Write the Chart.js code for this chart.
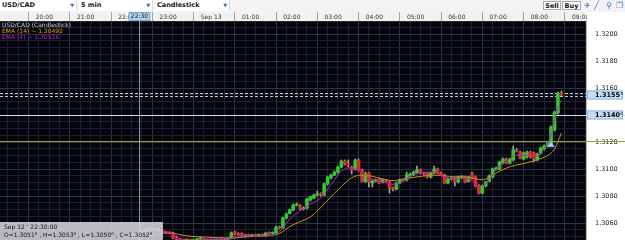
<!DOCTYPE html>
<html>
<head>
<meta charset="utf-8">
<script src="https://cdn.jsdelivr.net/npm/chart.js@4.4.0/dist/chart.umd.min.js"></script>
<style>
  body { margin: 0; background: #fff; }
  #wrap { position: relative; width: 625px; height: 240px; overflow: hidden; font-family: "DejaVu Sans", sans-serif; }
  #chart { position: absolute; left: 0; top: 0; }
  #toolbar { position: absolute; left: 0; top: 0; width: 625px; height: 12px; background: #f3f3f3; }
  .dd { position: absolute; top: 0; height: 11px; background: #fff; font-weight: bold; font-size: 6.5px; line-height: 11px; color: #1a1a1a; padding-left: 2px; box-sizing: border-box; border-right: 1px solid #dedede; }
  .dd .arr { position: absolute; right: 2px; top: 0; color: #2f6fc0; font-size: 5px; }
  .btn { position: absolute; top: 1px; height: 9px; border: 1px solid #a8a8a8; background: #fff; font-weight: bold; font-size: 6.5px; line-height: 8px; text-align: center; box-sizing: border-box; color: #111; }
  .ico { position: absolute; top: 0; font-size: 8px; line-height: 11px; color: #2f78cc; }
  #legend { position: absolute; left: 2px; top: 21.5px; font-size: 6px; line-height: 6px; white-space: nowrap; }
  #ohlc { position: absolute; left: 0; top: 222px; width: 163px; height: 18px; background: rgba(214,217,222,0.86); border-top: 1px solid #b9b9b9; border-right: 1px solid #b9b9b9; box-sizing: border-box; font-size: 6px; color: #111; padding-left: 4px; line-height: 8px; white-space: nowrap; }
  sup { font-size: 4px; vertical-align: 2px; line-height: 0; }
</style>
</head>
<body>
<div id="wrap">
  <canvas id="chart" width="625" height="240"></canvas>
  <div id="toolbar">
    <div class="dd" style="left:0;width:77px">USD/CAD<span class="arr">▼</span></div>
    <div class="dd" style="left:79px;width:74px">5 min<span class="arr">▼</span></div>
    <div class="dd" style="left:155px;width:75px">Candlestick<span class="arr">▼</span></div>
    <div class="btn" style="left:543px;width:18px">Sell</div>
    <div class="btn" style="left:562px;width:19px">Buy</div>
    <span class="ico" style="left:584px">✈</span>
    <span class="ico" style="left:594px">╱</span>
    <span class="ico" style="left:606px">⚲</span>
    <span class="ico" style="left:616px">❐</span>
  </div>
  <div id="legend">
    <div style="color:#c8c8c8">USD/CAD (Candlestick)</div>
    <div style="color:#d49a1a">EMA (14) ~ 1.30492</div>
    <div style="color:#c21cc2">EMA (4) ~ 1.30516</div>
  </div>
  <div id="ohlc">
    <div>Sep 12 ' 22:30:00</div>
    <div>O=1.3051<sup>0</sup> , H=1.3053<sup>0</sup> , L=1.3050<sup>0</sup> , C=1.3052<sup>0</sup></div>
  </div>
</div>
<script>
// 5-minute USD/CAD bars. bar index 0 = 20:00, first bar below is 22:20
const firstBar = 28;

const opens = [
  1.30508, 1.30512, 1.30510, 1.30520, 1.30538, 1.30552, 1.30558, 1.30550, 1.30554, 1.30542,
  1.30534, 1.30528, 1.30526, 1.30489, 1.30480, 1.30468, 1.30464, 1.30470, 1.30466, 1.30476,
  1.30482, 1.30484, 1.30472, 1.30476, 1.30470, 1.30474, 1.30478, 1.30474, 1.30480, 1.30488,
  1.30533, 1.30519, 1.30520, 1.30506, 1.30510, 1.30506, 1.30512, 1.30508, 1.30514, 1.30504,
  1.30526, 1.30522, 1.30526, 1.30570, 1.30563, 1.30637, 1.30670, 1.30696, 1.30733, 1.30726,
  1.30704, 1.30711, 1.30770, 1.30785, 1.30807, 1.30815, 1.30807, 1.30889, 1.30933, 1.30956,
  1.30978, 1.31015, 1.31059, 1.31037, 1.31015, 1.31000, 1.31067, 1.30993, 1.30908, 1.30970,
  1.30896, 1.30911, 1.30926, 1.30904, 1.30914, 1.30904, 1.30859, 1.30852, 1.30896, 1.30919,
  1.30919, 1.30948, 1.30956, 1.30970, 1.30993, 1.30970, 1.30970, 1.30941, 1.30970, 1.31000,
  1.30970, 1.30956, 1.30896, 1.30926, 1.30933, 1.30904, 1.30941, 1.30941, 1.30908, 1.30963,
  1.30941, 1.30874, 1.30822, 1.30874, 1.30911, 1.30941, 1.31000, 1.31000, 1.31044, 1.31074,
  1.31044, 1.31067, 1.31141, 1.31126, 1.31074, 1.31089, 1.31126, 1.31119, 1.31067, 1.31119,
  1.31148, 1.31170, 1.31193, 1.31289, 1.31415, 1.31563
];
const highs = [
  1.30520, 1.30524, 1.30530, 1.30542, 1.30556, 1.30564, 1.30566, 1.30560, 1.30562, 1.30550,
  1.30540, 1.30536, 1.30532, 1.30504, 1.30486, 1.30476, 1.30472, 1.30478, 1.30480, 1.30486,
  1.30498, 1.30488, 1.30480, 1.30484, 1.30478, 1.30482, 1.30486, 1.30484, 1.30488, 1.30534,
  1.30540, 1.30528, 1.30528, 1.30516, 1.30518, 1.30516, 1.30518, 1.30518, 1.30520, 1.30530,
  1.30534, 1.30534, 1.30578, 1.30578, 1.30644, 1.30674, 1.30704, 1.30741, 1.30748, 1.30736,
  1.30720, 1.30785, 1.30798, 1.30815, 1.30837, 1.30824, 1.30896, 1.30948, 1.30963, 1.30985,
  1.31022, 1.31067, 1.31067, 1.31067, 1.31022, 1.31074, 1.31074, 1.31000, 1.30978, 1.30978,
  1.30919, 1.30926, 1.30933, 1.30926, 1.30922, 1.30911, 1.30867, 1.30904, 1.30926, 1.30926,
  1.30978, 1.30970, 1.30985, 1.31022, 1.31000, 1.30978, 1.30978, 1.30978, 1.31022, 1.31007,
  1.30978, 1.30963, 1.30933, 1.30936, 1.30941, 1.30948, 1.30950, 1.30948, 1.30948, 1.30978,
  1.30948, 1.30882, 1.30882, 1.30908, 1.30956, 1.31007, 1.31015, 1.31059, 1.31081, 1.31081,
  1.31081, 1.31170, 1.31150, 1.31133, 1.31126, 1.31133, 1.31133, 1.31126, 1.31119, 1.31163,
  1.31178, 1.31200, 1.31319, 1.31430, 1.31570, 1.31578
];
const lows = [
  1.30502, 1.30506, 1.30500, 1.30516, 1.30532, 1.30544, 1.30546, 1.30540, 1.30538, 1.30528,
  1.30522, 1.30520, 1.30484, 1.30474, 1.30462, 1.30458, 1.30456, 1.30460, 1.30462, 1.30470,
  1.30476, 1.30468, 1.30464, 1.30466, 1.30462, 1.30468, 1.30470, 1.30468, 1.30474, 1.30482,
  1.30512, 1.30504, 1.30500, 1.30498, 1.30502, 1.30498, 1.30504, 1.30500, 1.30504, 1.30500,
  1.30516, 1.30518, 1.30522, 1.30556, 1.30558, 1.30630, 1.30667, 1.30690, 1.30726, 1.30696,
  1.30696, 1.30704, 1.30763, 1.30780, 1.30800, 1.30800, 1.30800, 1.30882, 1.30926, 1.30950,
  1.30970, 1.31008, 1.31030, 1.31015, 1.30963, 1.30993, 1.30985, 1.30904, 1.30900, 1.30867,
  1.30867, 1.30904, 1.30890, 1.30896, 1.30904, 1.30822, 1.30837, 1.30844, 1.30890, 1.30911,
  1.30911, 1.30941, 1.30950, 1.30963, 1.30963, 1.30956, 1.30933, 1.30933, 1.30963, 1.30963,
  1.30950, 1.30890, 1.30890, 1.30919, 1.30874, 1.30896, 1.30933, 1.30896, 1.30904, 1.30926,
  1.30867, 1.30815, 1.30815, 1.30867, 1.30904, 1.30933, 1.30993, 1.30993, 1.31037, 1.31037,
  1.31037, 1.31060, 1.31126, 1.31074, 1.31067, 1.31081, 1.31081, 1.31052, 1.31060, 1.31111,
  1.31141, 1.31163, 1.31185, 1.31281, 1.31407, 1.31541
];
const closes = [
  1.30512, 1.30510, 1.30520, 1.30538, 1.30552, 1.30558, 1.30550, 1.30554, 1.30542, 1.30534,
  1.30528, 1.30526, 1.30489, 1.30480, 1.30468, 1.30464, 1.30470, 1.30466, 1.30476, 1.30482,
  1.30484, 1.30472, 1.30476, 1.30470, 1.30474, 1.30478, 1.30474, 1.30480, 1.30484, 1.30526,
  1.30519, 1.30516, 1.30506, 1.30510, 1.30506, 1.30512, 1.30508, 1.30514, 1.30508, 1.30526,
  1.30522, 1.30530, 1.30570, 1.30563, 1.30637, 1.30667, 1.30696, 1.30733, 1.30736, 1.30704,
  1.30711, 1.30778, 1.30793, 1.30807, 1.30815, 1.30812, 1.30889, 1.30941, 1.30956, 1.30978,
  1.31015, 1.31059, 1.31037, 1.31028, 1.30993, 1.31067, 1.30993, 1.30908, 1.30963, 1.30904,
  1.30911, 1.30916, 1.30896, 1.30919, 1.30911, 1.30859, 1.30852, 1.30896, 1.30919, 1.30916,
  1.30956, 1.30963, 1.30978, 1.30993, 1.30970, 1.30966, 1.30941, 1.30970, 1.31000, 1.30970,
  1.30956, 1.30896, 1.30926, 1.30929, 1.30904, 1.30941, 1.30944, 1.30904, 1.30941, 1.30933,
  1.30874, 1.30822, 1.30874, 1.30904, 1.30948, 1.31000, 1.31004, 1.31052, 1.31074, 1.31044,
  1.31074, 1.31141, 1.31133, 1.31081, 1.31119, 1.31126, 1.31089, 1.31074, 1.31111, 1.31156,
  1.31170, 1.31193, 1.31311, 1.31422, 1.31563, 1.31548
];

// indicator lines, read at these bar indexes
const emaBars = [28, 30, 34, 38, 40, 42, 45, 49, 53, 57, 60, 64, 68, 71, 74, 77, 80, 83, 86, 89, 92, 95, 98,
  101, 104, 107, 110, 113, 116, 119, 122, 125, 128, 130, 132, 134, 137, 140, 143, 146, 148, 150, 151, 152, 153];
const ema4 = [1.30510, 1.30516, 1.30545, 1.30533, 1.30514, 1.30484, 1.30466, 1.30476, 1.30476, 1.30489,
  1.30511, 1.30502, 1.30506, 1.30536, 1.30630, 1.30690, 1.30740, 1.30785, 1.30885, 1.30985,
  1.31010, 1.30968, 1.30926, 1.30904, 1.30886, 1.30908, 1.30960, 1.30974, 1.30976, 1.30941,
  1.30926, 1.30930, 1.30900, 1.30874, 1.30920, 1.30993, 1.31059, 1.31104, 1.31100, 1.31096,
  1.31152, 1.31252, 1.31363, 1.31452, 1.31511];
const ema14 = [1.30490, 1.30492, 1.30508, 1.30526, 1.30524, 1.30514, 1.30502, 1.30496, 1.30492, 1.30489,
  1.30494, 1.30502, 1.30508, 1.30522, 1.30574, 1.30610, 1.30645, 1.30715, 1.30795, 1.30870,
  1.30935, 1.30954, 1.30946, 1.30926, 1.30914, 1.30926, 1.30938, 1.30948, 1.30954, 1.30950,
  1.30941, 1.30941, 1.30928, 1.30920, 1.30938, 1.30970, 1.31007, 1.31030, 1.31046, 1.31069,
  1.31087, 1.31118, 1.31148, 1.31200, 1.31267];

const markerBars = [150];
const markerPrices = [1.31178];

const hourLabels = ['20:00', '21:00', '22:00', '23:00', 'Sep 13', '01:00', '02:00', '03:00',
  '04:00', '05:00', '06:00', '07:00', '08:00', '09:00'];

const levelYellow = 1.31207;
const levelWhite = 1.31400;
const askLevel = 1.31563;
const bidLevel = 1.31541;
const tagPrices = [1.31548, 1.31400];
const tagLabels = ['1.3155', '1.3140'];
const tagSmall = ['5', '0'];

const crosshairBar = 30;
const crosshairLabel = '22:30';

const center = i => i + 0.5;
const wickData = highs.map((h, k) => ({ x: center(firstBar + k), y: [lows[k], h] }));
const bodyData = opens.map((o, k) => ({ x: center(firstBar + k), y: [o, closes[k]] }));
const bodyColors = opens.map((o, k) => closes[k] > o ? '#27cf27' : (closes[k] < o ? '#e22525' : '#9a9a9a'));

const isMajorY = v => Math.round(v * 10000) % 20 === 0;

// keep the plot box fixed: no extra padding from tick labels
const noPad = s => { s.paddingLeft = 0; s.paddingRight = 0; s.paddingTop = 0; s.paddingBottom = 0; };

const chartDecor = {
  id: 'chartDecor',
  beforeDraw(chart) {
    const { ctx, chartArea: a } = chart;
    ctx.save();
    ctx.fillStyle = '#ffffff';
    ctx.fillRect(0, 0, chart.width, chart.height);
    ctx.fillStyle = '#f1f1f1';
    ctx.fillRect(0, 12, a.right, a.top - 12);
    ctx.fillStyle = '#05060d';
    ctx.fillRect(a.left, a.top, a.right - a.left, a.bottom - a.top);
    ctx.restore();
  },
  beforeDatasetsDraw(chart) {
    const { ctx, chartArea: a, scales: { y } } = chart;
    const hline = (v, color, dash) => {
      const py = Math.round(y.getPixelForValue(v)) + 0.5;
      ctx.strokeStyle = color;
      ctx.setLineDash(dash);
      ctx.beginPath();
      ctx.moveTo(a.left, py);
      ctx.lineTo(chart.width, py);
      ctx.stroke();
    };
    ctx.save();
    ctx.lineWidth = 1;
    hline(levelYellow, '#a89a22', []);
    hline(levelWhite, '#dcdcdc', []);
    hline(askLevel, '#c8c8c8', [3, 2]);
    hline(bidLevel, '#c8c8c8', [3, 2]);
    ctx.restore();
  },
  afterDraw(chart) {
    const { ctx, chartArea: a, scales: { x, y } } = chart;
    ctx.save();
    // crosshair
    const cx = Math.round(x.getPixelForValue(center(crosshairBar))) + 0.5;
    ctx.strokeStyle = 'rgba(150,180,215,0.85)';
    ctx.lineWidth = 1;
    ctx.beginPath();
    ctx.moveTo(cx, a.top);
    ctx.lineTo(cx, a.bottom);
    ctx.stroke();
    // time box in the strip
    ctx.fillStyle = '#b4d0ee';
    ctx.fillRect(cx - 10.5, 12, 21, a.top - 12);
    ctx.strokeStyle = '#7fa6d3';
    ctx.strokeRect(cx - 10.5, 12.5, 21, a.top - 13);
    ctx.fillStyle = '#111';
    ctx.font = '6px "DejaVu Sans"';
    ctx.textAlign = 'center';
    ctx.textBaseline = 'middle';
    ctx.fillText(crosshairLabel, cx, 16.8);
    // strip ends at the price panel
    ctx.fillStyle = '#ffffff';
    ctx.fillRect(a.right + 1, 12, chart.width - a.right, a.top - 12);
    // price tags
    tagPrices.forEach((v, k) => {
      const py = Math.round(y.getPixelForValue(v));
      ctx.fillStyle = '#c3ddf3';
      ctx.fillRect(a.right + 1, py - 4.5, 36, 9);
      ctx.strokeStyle = '#8fb3da';
      ctx.strokeRect(a.right + 1.5, py - 4, 35, 8);
      ctx.fillStyle = '#000';
      ctx.font = 'bold 6.5px "DejaVu Sans"';
      ctx.textAlign = 'left';
      ctx.fillText(tagLabels[k], a.right + 9, py + 0.5);
      const w = ctx.measureText(tagLabels[k]).width;
      ctx.font = '4px "DejaVu Sans"';
      ctx.fillText(tagSmall[k], a.right + 9.5 + w, py - 1.5);
    });
    ctx.restore();
  }
};

new Chart(document.getElementById('chart'), {
  type: 'bar',
  data: {
    datasets: [
      {
        type: 'scatter',
        data: markerBars.map((b, k) => ({ x: center(b), y: markerPrices[k] })),
        pointStyle: 'triangle',
        pointRadius: 3.5,
        backgroundColor: '#a9d6ff',
        borderColor: '#7cb6ec',
        borderWidth: 1,
        order: 1
      },
      {
        type: 'line',
        label: 'EMA (4)',
        data: ema4.map((v, k) => ({ x: center(emaBars[k]), y: v })),
        borderColor: '#c21cc2',
        borderWidth: 1,
        pointRadius: 0,
        cubicInterpolationMode: 'monotone',
        order: 2
      },
      {
        type: 'line',
        label: 'EMA (14)',
        data: ema14.map((v, k) => ({ x: center(emaBars[k]), y: v })),
        borderColor: '#c8901a',
        borderWidth: 1,
        pointRadius: 0,
        cubicInterpolationMode: 'monotone',
        order: 3
      },
      {
        label: 'body',
        data: bodyData,
        backgroundColor: bodyColors,
        barThickness: 3,
        minBarLength: 1,
        grouped: false,
        order: 4
      },
      {
        label: 'wick',
        data: wickData,
        backgroundColor: '#a2a2a2',
        barThickness: 1,
        grouped: false,
        order: 5
      }
    ]
  },
  options: {
    responsive: false,
    animation: false,
    devicePixelRatio: 1,
    layout: { autoPadding: false, padding: { top: 12, left: 0, right: 0, bottom: 0 } },
    plugins: { legend: { display: false }, tooltip: { enabled: false } },
    scales: {
      x: {
        type: 'linear',
        position: 'top',
        min: -8.2857,
        max: 159.1429,
        afterFit: s => { s.height = 9; noPad(s); },
        border: { color: '#2a2a2a' },
        grid: {
          color: c => (c.tick && c.tick.value % 12 === 0) ? '#2b3548' : '#1a2131',
          tickColor: c => (c.tick && c.tick.value % 12 === 0) ? '#a4a4a4' : 'rgba(0,0,0,0)',
          tickLength: 9
        },
        ticks: {
          stepSize: 3,
          autoSkip: false,
          maxRotation: 0,
          includeBounds: false,
          align: 'start',
          labelOffset: 2,
          padding: -8.6,
          color: '#333',
          font: { family: 'DejaVu Sans', size: 6 },
          callback: v => v % 12 === 0 ? (hourLabels[v / 12] || '') : ''
        }
      },
      y: {
        position: 'right',
        min: 1.304741,
        max: 1.320963,
        afterFit: s => { s.width = 39; noPad(s); },
        border: { color: '#b8b8b8' },
        grid: {
          color: c => (c.tick && isMajorY(c.tick.value)) ? '#2b3548' : '#1a2131',
          drawTicks: false
        },
        ticks: {
          stepSize: 0.0005,
          autoSkip: false,
          includeBounds: false,
          padding: 9,
          color: '#222',
          font: { family: 'DejaVu Sans', size: 6.5 },
          callback: v => isMajorY(v) ? v.toFixed(4) : ''
        }
      }
    }
  },
  plugins: [chartDecor]
});
</script>
</body>
</html>
